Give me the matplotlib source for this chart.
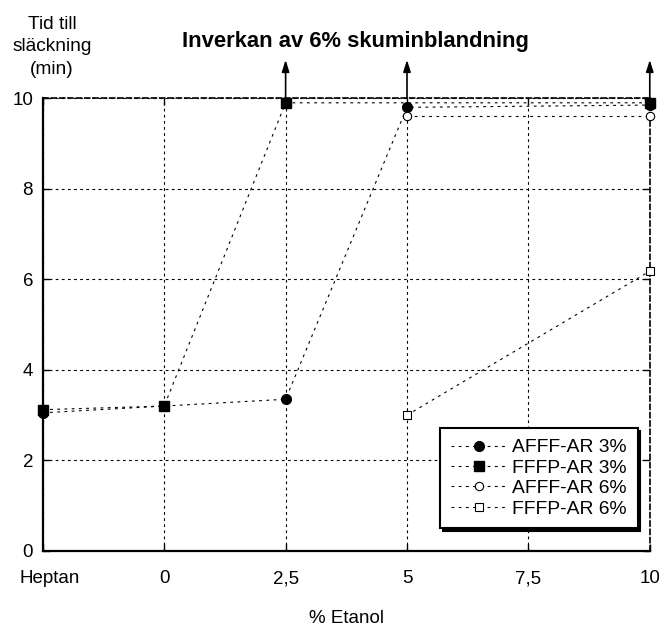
import matplotlib
matplotlib.use("Agg")
import matplotlib.pyplot as plt
from matplotlib.transforms import ScaledTranslation

plt.rcParams['font.family'] = ['Liberation Sans', 'DejaVu Sans']

# x = -2.5 stands for "Heptan"
x_ticks = [-2.5, 0, 2.5, 5, 7.5, 10]
x_labels = ['Heptan', '0', '2,5', '5', '7,5', '10']

afff3_x = [-2.5, 0, 2.5, 5, 10]
afff3_y = [3.05, 3.2, 3.35, 9.8, 9.85]

fffp3_x = [-2.5, 0, 2.5, 10]
fffp3_y = [3.12, 3.2, 9.9, 9.9]

afff6_x = [5, 10]
afff6_y = [9.6, 9.6]

fffp6_x = [5, 10]
fffp6_y = [3.0, 6.18]

arrow_x = [2.5, 5, 10]

fig = plt.figure(figsize=(6.59, 6.26), dpi=100)
ax = fig.add_axes([0.065, 0.12, 0.921, 0.723])

ls = (0, (2.5, 4))
ax.plot(afff3_x, afff3_y, color='black', lw=0.8, ls=ls, marker='o', ms=7,
        mfc='black', mec='black', label='AFFF-AR 3%', clip_on=False, zorder=4)
ax.plot(fffp3_x, fffp3_y, color='black', lw=0.8, ls=ls, marker='s', ms=7.5,
        mfc='black', mec='black', label='FFFP-AR 3%', clip_on=False, zorder=4)
ax.plot(afff6_x, afff6_y, color='black', lw=0.8, ls=ls, marker='o', ms=6,
        mfc='white', mec='black', mew=0.8, label='AFFF-AR 6%', clip_on=False, zorder=4)
ax.plot(fffp6_x, fffp6_y, color='black', lw=0.8, ls=ls, marker='s', ms=6,
        mfc='white', mec='black', mew=0.8, label='FFFP-AR 6%', clip_on=False, zorder=4)

for xa in arrow_x:
    ax.annotate('', xy=(xa, 10.85), xytext=(xa, 10), annotation_clip=False,
                arrowprops=dict(arrowstyle='-|>,head_length=0.7,head_width=0.22',
                                color='black', lw=1.2, shrinkA=0, shrinkB=0))

ax.set_xlim(-2.5, 10)
ax.set_ylim(0, 10)
ax.set_xticks(x_ticks)
ax.set_xticklabels(x_labels)
ax.set_yticks([0, 2, 4, 6, 8, 10])
ax.tick_params(direction='in', top=True, right=True, labelsize=13.5,
               length=5, width=1)
ax.tick_params(axis='x', pad=14)
ax.tick_params(axis='y', pad=7)
ax.grid(True, color='black', ls=(0, (2.5, 3)), lw=0.8)

for side in ['left', 'bottom']:
    ax.spines[side].set_linewidth(1.6)
for side in ['top', 'right']:
    ax.spines[side].set_linewidth(1.2)
    ax.spines[side].set_linestyle((0, (3, 2)))

# "Heptan" sits slightly right of the axis edge
heptan = ax.get_xticklabels()[0]
heptan.set_transform(heptan.get_transform() +
                     ScaledTranslation(5 / 72, 0, fig.dpi_scale_trans))

ax.set_xlabel('% Etanol', fontsize=13.5, labelpad=16)
fig.text(0.079, 0.925, 'Tid till\nsläckning\n(min)', ha='center', va='center',
         fontsize=13.8, linespacing=1.4)
fig.text(0.539, 0.933, 'Inverkan av 6% skuminblandning', ha='center',
         va='center', fontsize=15.8, fontweight='bold')

leg = ax.legend(loc='lower right', bbox_to_anchor=(0.98, 0.05), borderaxespad=0,
                fontsize=13.9, frameon=True, fancybox=False,
                shadow={'color': 'black', 'alpha': 1},
                edgecolor='black', handlelength=2.9, borderpad=0.55,
                labelspacing=0.15, handletextpad=0.3)
leg.get_frame().set_linewidth(1.5)

fig.savefig('out.png', dpi=100)
